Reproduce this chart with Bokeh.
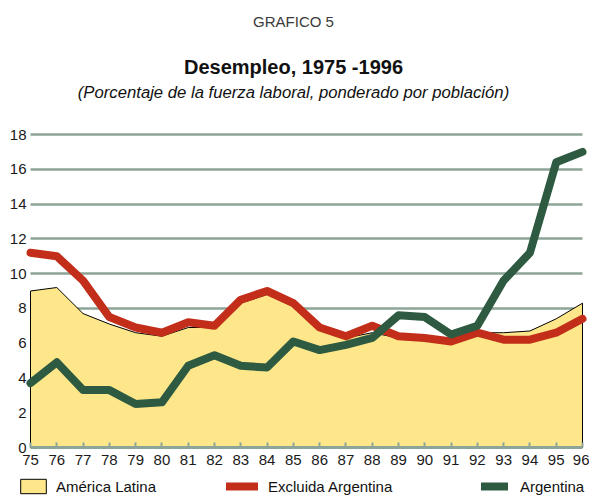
from bokeh.plotting import figure
from bokeh.models import Range1d, FixedTicker, Label, Legend, LegendItem, Grid
from bokeh.embed import file_html
from bokeh.resources import INLINE

# ---------------- data ----------------
years = list(range(1975, 1997))
year_labels = ["75", "76", "77", "78", "79", "80", "81", "82", "83", "84", "85",
               "86", "87", "88", "89", "90", "91", "92", "93", "94", "95", "96"]
america_latina = [9.0, 9.2, 7.7, 7.1, 6.6, 6.4, 6.9, 6.9, 8.3, 8.8, 8.1,
                  6.8, 6.3, 6.6, 6.3, 6.3, 6.2, 6.6, 6.6, 6.7, 7.4, 8.3]
excluida_argentina = [11.2, 11.0, 9.6, 7.5, 6.9, 6.6, 7.2, 7.0, 8.5, 9.0, 8.3,
                      6.9, 6.4, 7.0, 6.4, 6.3, 6.1, 6.6, 6.2, 6.2, 6.6, 7.4]
argentina = [3.7, 4.9, 3.3, 3.3, 2.5, 2.6, 4.7, 5.3, 4.7, 4.6, 6.1,
             5.6, 5.9, 6.3, 7.6, 7.5, 6.5, 7.0, 9.6, 11.2, 16.4, 17.0]
y_ticks = [0, 2, 4, 6, 8, 10, 12, 14, 16, 18]
grid_ticks = [2, 4, 6, 8, 10, 12, 14, 16, 18]

title_top = "GRAFICO 5"
title_main = "Desempleo, 1975 -1996"
subtitle = "(Porcentaje de la fuerza laboral, ponderado por población)"
series_names = ["América Latina", "Excluida Argentina", "Argentina"]

# ---------------- layout / style ----------------
YELLOW = "#FDE78A"
RED = "#C22E1A"
GREEN = "#2D5A40"
GRID = "#8DA598"
FONT = "Liberation Sans"

W, H = 589, 495
X0_PX, X1_PX = 30, 582              # page columns of the first and last year
ZERO_PX, TOP_PX = 447, 134          # page rows of value 0 and value 18
PX_PER_UNIT = (ZERO_PX - TOP_PX) / 18.0
PX_PER_YEAR = (X1_PX - X0_PX) / (years[-1] - years[0])

def vy(py):
    return (ZERO_PX - py) / PX_PER_UNIT

def vx(px):
    return years[0] + (px - X0_PX) / PX_PER_YEAR

p = figure(frame_width=W, frame_height=H,
           min_border_left=0, min_border_right=0,
           min_border_top=0, min_border_bottom=0,
           x_range=Range1d(vx(0), vx(W)), y_range=Range1d(vy(H), vy(0)),
           title=None, output_backend="svg", toolbar_location=None)
p.outline_line_color = None
p.background_fill_color = "white"

# grid lines limited to the span of the years
p.xgrid.grid_line_color = None
if "cross_bounds" in Grid.properties():
    p.ygrid.ticker = FixedTicker(ticks=grid_ticks)
    p.ygrid.cross_bounds = (years[0], years[-1])
    p.ygrid.grid_line_color = GRID
    p.ygrid.grid_line_width = 2.5
else:
    p.ygrid.grid_line_color = None
    p.segment(x0=[years[0]] * len(grid_ticks), x1=[years[-1]] * len(grid_ticks),
              y0=grid_ticks, y1=grid_ticks, line_color=GRID, line_width=2.5)

# area
area_x = years + [years[-1], years[0]]
area_y = america_latina + [0, 0]
r_area = p.patch(area_x, area_y, fill_color=YELLOW, line_color="black", line_width=1)

r_red = p.line(years, excluida_argentina, line_color=RED, line_width=8,
               line_join="round", line_cap="round")
r_green = p.line(years, argentina, line_color=GREEN, line_width=8,
                 line_join="round", line_cap="round")

# axes (drawn at fixed data locations inside the frame)
xa = p.xaxis[0]
xa.fixed_location = 0
xa.bounds = (years[0], years[-1])
xa.ticker = FixedTicker(ticks=years)
xa.major_label_overrides = {y: l for y, l in zip(years, year_labels)}
xa.axis_line_color = GRID
xa.axis_line_width = 3
xa.major_tick_in = 5
xa.major_tick_out = 0
xa.major_tick_line_color = GRID
xa.major_tick_line_width = 2
xa.minor_tick_line_color = None
xa.major_label_standoff = 7
xa.major_label_text_font = FONT
xa.major_label_text_font_size = "15px"
xa.major_label_text_color = "#1a1a1a"

ya = p.yaxis[0]
ya.fixed_location = years[0]
ya.ticker = FixedTicker(ticks=y_ticks)
ya.axis_line_color = None
ya.major_tick_line_color = None
ya.major_tick_in = 0
ya.major_tick_out = 0
ya.minor_tick_line_color = None
ya.major_label_standoff = 4
ya.major_label_text_font = FONT
ya.major_label_text_font_size = "15px"
ya.major_label_text_color = "#1a1a1a"

# titles
p.add_layout(Label(x=vx(293), y=vy(21), text=title_top, text_font=FONT,
                   text_font_size="15px", text_color="#3a3a3a",
                   text_align="center", text_baseline="alphabetic"))
p.add_layout(Label(x=vx(293), y=vy(66), text=title_main, text_font=FONT,
                   text_font_style="bold", text_font_size="20px", text_color="#111111",
                   text_align="center", text_baseline="alphabetic"))
p.add_layout(Label(x=vx(293), y=vy(92), text=subtitle, text_font=FONT,
                   text_font_style="italic", text_font_size="16.7px", text_color="#111111",
                   text_align="center", text_baseline="alphabetic"))

# legends: one per item, placed where the reference has them
def make_legend(name, rend, left_px, gw, standoff):
    lg = Legend(items=[LegendItem(label=name, renderers=[rend])],
                location=(left_px, 0), orientation="horizontal",
                glyph_width=gw, glyph_height=18, label_standoff=standoff,
                padding=0, margin=0, spacing=0,
                border_line_color=None, background_fill_alpha=0,
                label_text_font=FONT, label_text_font_size="15px",
                label_text_color="#111111", label_height=18)
    p.add_layout(lg, "center")

make_legend(series_names[0], r_area, 17, 32, 7)
make_legend(series_names[1], r_red, 226, 32, 10)
make_legend(series_names[2], r_green, 481, 27, 12)

open("out.html", "w").write(file_html(p, INLINE))
